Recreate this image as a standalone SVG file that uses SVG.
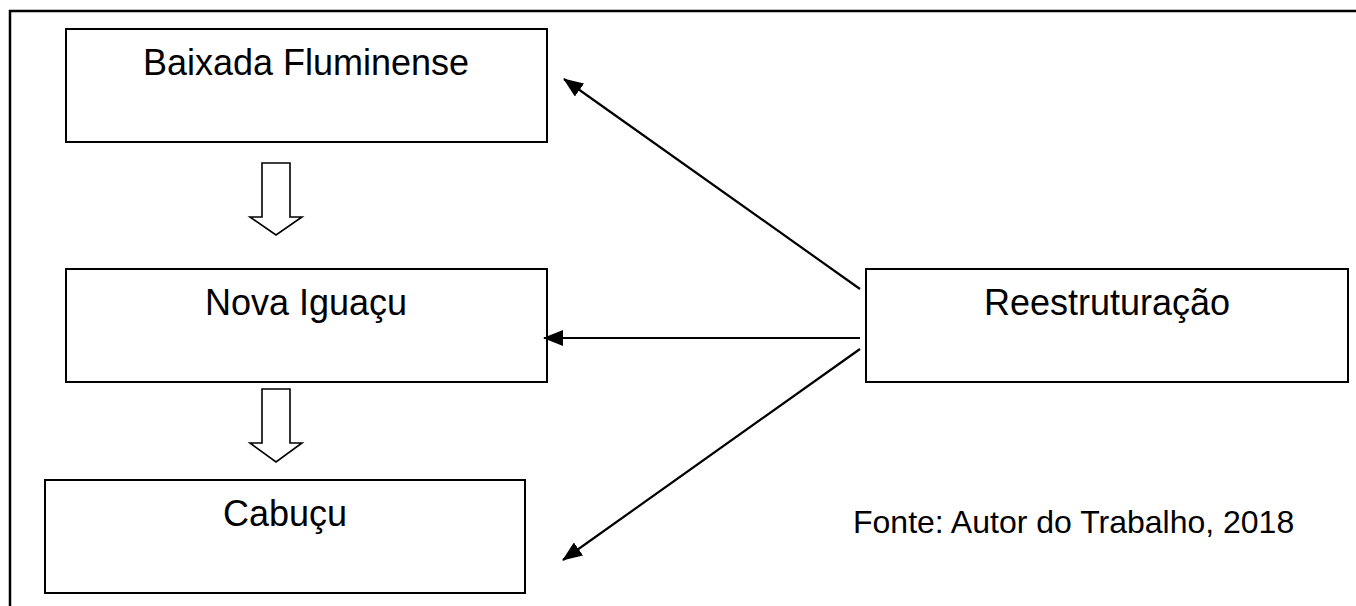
<svg xmlns="http://www.w3.org/2000/svg" width="1356" height="606" viewBox="0 0 1356 606">
  <style>
    .box { fill: #ffffff; stroke: #000000; stroke-width: 2; }
    .lbl { font-family: "Liberation Sans", Arial, sans-serif; font-size: 36px; fill: #000000; text-anchor: middle; }
    .src { font-family: "Liberation Sans", Arial, sans-serif; font-size: 32px; fill: #000000; }
    .conn { stroke: #000000; stroke-width: 2.2; fill: none; }
    .flow { fill: #ffffff; stroke: #000000; stroke-width: 1.6; stroke-linejoin: miter; }
  </style>
  <defs>
    <marker id="ah" viewBox="0 0 20 16" refX="19" refY="8" markerWidth="20" markerHeight="16" markerUnits="userSpaceOnUse" orient="auto">
      <path d="M0,0 L20,8 L0,16 Z" fill="#000000"/>
    </marker>
  </defs>
  <rect width="1356" height="606" fill="#ffffff"/>
  <path id="frame" d="M10,606 V11 H1356" fill="none" stroke="#000000" stroke-width="2.5"/>

  <g id="baixada">
    <rect class="box" x="66" y="29" width="481" height="113"/>
    <text class="lbl" x="306" y="75">Baixada Fluminense</text>
  </g>
  <g id="nova-iguacu">
    <rect class="box" x="66" y="269" width="481" height="113"/>
    <text class="lbl" x="306" y="315">Nova Iguaçu</text>
  </g>
  <g id="cabucu">
    <rect class="box" x="45" y="480" width="480" height="113"/>
    <text class="lbl" x="285" y="526">Cabuçu</text>
  </g>
  <g id="reestruturacao">
    <rect class="box" x="866" y="269" width="482" height="113"/>
    <text class="lbl" x="1107" y="315">Reestruturação</text>
  </g>
  <g id="fonte">
    <text class="src" x="853" y="533">Fonte: Autor do Trabalho, 2018</text>
  </g>

  <g id="connectors">
    <polygon class="flow" points="262,163 290,163 290,217 302,217 276,235 250,217 262,217"/>
    <polygon class="flow" points="262,389 290,389 290,443 302,443 276,462 250,443 262,443"/>
    <line class="conn" x1="860" y1="289" x2="564" y2="79" marker-end="url(#ah)"/>
    <line class="conn" x1="860" y1="338" x2="544" y2="338" marker-end="url(#ah)"/>
    <line class="conn" x1="860" y1="349" x2="563" y2="560" marker-end="url(#ah)"/>
  </g>
</svg>
